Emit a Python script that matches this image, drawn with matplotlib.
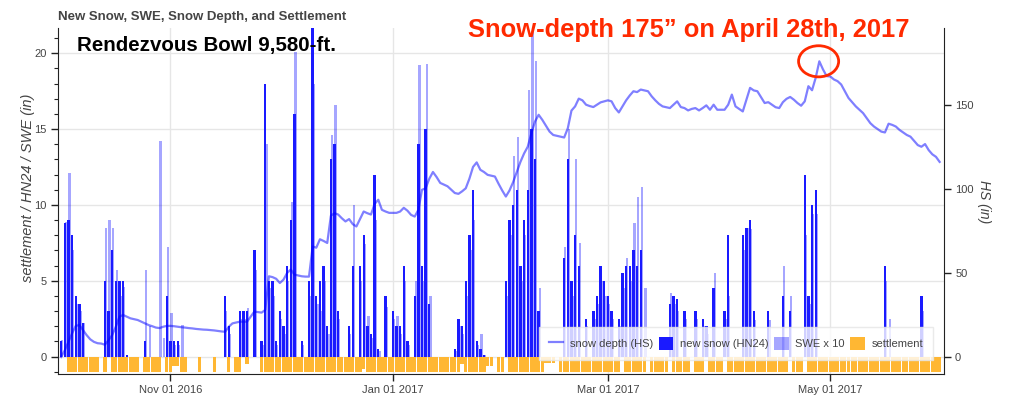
import numpy as np
import pandas as pd
import matplotlib
matplotlib.use("Agg")
import matplotlib.pyplot as plt
import matplotlib.dates as mdates
from matplotlib.patches import Ellipse, Patch
from matplotlib.lines import Line2D
from matplotlib.ticker import MultipleLocator, FixedLocator

plt.rcParams['font.family'] = ['Liberation Sans', 'DejaVu Sans']

# ---------------- data (daily, 2016-10-01 .. 2017-05-31) ----------------
start_date = "2016-10-01"
end_date = "2017-05-31"

# new snow HN24 (in)
hn_oct = [0, 1.0, 8.8, 9.0, 8.0, 4.0, 3.5, 2.2, 0, 0,
          0, 0, 0, 5.0, 3.0, 7.0, 5.0, 5.0, 5.0, 0.1,
          0, 0, 0, 0, 1.0, 0, 0, 0, 0, 0,
          4.0]
hn_nov = [1.0, 1.0, 1.0, 0, 0, 0, 0, 0, 0, 0,
          0, 0, 0, 0, 0, 4.0, 2.0, 0, 0, 3.0,
          3.0, 3.0, 0, 7.0, 0, 1.0, 18.0, 5.0, 5.0, 1.0]
hn_dec = [3.0, 2.0, 6.0, 9.0, 16.0, 0, 1.0, 0, 5.0, 24.0,
          4.0, 5.0, 6.0, 2.0, 13.0, 14.0, 3.0, 0, 0, 2.0,
          6.0, 0, 6.0, 8.0, 2.0, 1.5, 12.0, 0.5, 0, 4.0,
          0]
hn_jan = [3.0, 2.0, 2.0, 6.0, 1.0, 0, 4.0, 14.0, 6.0, 15.0,
          3.5, 0, 0, 0, 0, 0, 0, 0.5, 2.5, 2.0,
          5.0, 8.0, 11.0, 1.0, 0.5, 0.1, 0, 0, 0, 0,
          0]
hn_feb = [5.0, 9.0, 10.0, 11.0, 6.0, 9.0, 11.0, 15.0, 13.0, 3.0,
          0, 0, 0, 0, 0, 0, 6.5, 13.0, 5.0, 8.0,
          6.0, 0, 2.5, 0, 3.0, 4.0, 6.0, 5.0]
hn_mar = [4.0, 3.0, 0, 2.5, 5.5, 6.0, 6.0, 7.0, 6.0, 7.0,
          0, 0, 0, 0, 0, 0, 0, 3.5, 4.0, 3.8,
          0, 3.0, 0, 0, 3.0, 0, 2.5, 2.0, 0, 4.5,
          0]
hn_apr = [0, 3.0, 8.0, 0, 0, 0, 8.0, 8.5, 9.0, 3.0,
          0, 0, 0, 3.0, 0, 0, 0, 4.0, 0, 3.0,
          0, 0, 0, 12.0, 4.0, 10.0, 11.0, 0, 0, 0]
hn_may = [0, 0, 0, 0, 0, 0, 0, 0, 0, 0,
          0, 0, 0, 0, 0, 6.0, 0, 0, 0, 0,
          0, 0, 0, 0, 0, 4.0, 0, 0, 0, 0,
          0]

# SWE x 10 (in)
swe_oct = [0, 1.1, 8.9, 12.1, 7.0, 3.5, 3.0, 2.2, 0, 0,
           0, 0, 0, 8.5, 9.0, 8.5, 5.7, 4.0, 4.6, 0,
           0, 0, 0, 0, 5.7, 2.0, 0, 0, 14.2, 1.2,
           7.2]
swe_nov = [2.9, 0.8, 0.8, 2.1, 0, 0, 0, 0, 0, 0,
           0, 0, 0, 0, 0, 3.0, 1.5, 0, 0, 2.5,
           2.5, 3.2, 0, 5.7, 0, 0.8, 14.0, 4.5, 4.0, 0.8]
swe_dec = [2.5, 1.5, 5.0, 10.2, 20.1, 0, 0.8, 0, 4.0, 18.0,
           3.5, 3.0, 5.0, 1.5, 14.6, 16.6, 2.5, 0, 0, 1.5,
           10.0, 0, 5.0, 7.4, 2.7, 1.2, 9.0, 0.4, 0, 3.3,
           0]
swe_jan = [2.5, 2.7, 1.5, 5.0, 0.8, 0, 5.0, 19.2, 5.0, 19.3,
           4.0, 0, 0, 0, 0, 0, 0, 0.4, 2.0, 1.5,
           4.0, 7.0, 9.0, 0.8, 1.5, 0.1, 0, 0, 0, 0,
           0]
swe_feb = [4.0, 8.0, 13.2, 14.5, 5.0, 8.0, 17.6, 21.4, 19.5, 4.5,
           0, 0, 0, 0, 0, 0, 7.2, 15.0, 4.0, 13.0,
           7.5, 0, 2.0, 0, 2.5, 3.5, 5.0, 4.0]
swe_mar = [3.5, 2.5, 0, 2.0, 4.5, 6.5, 5.0, 8.8, 10.5, 11.2,
           4.5, 0, 0, 0, 0, 0, 0, 4.2, 3.5, 3.0,
           0, 2.5, 0, 0, 2.5, 0, 2.0, 1.5, 0, 5.5,
           0]
swe_apr = [0, 2.5, 4.0, 0, 0, 0, 7.0, 8.5, 8.4, 2.4,
           0, 0, 0, 2.4, 0, 0, 0, 6.0, 0, 4.0,
           0, 0, 0, 8.0, 3.5, 9.4, 9.4, 0, 0, 0]
swe_may = [0, 0, 0, 0, 0, 0, 0, 0, 0, 0,
           0, 0, 0, 0, 0, 5.0, 2.5, 0, 0, 0,
           0, 0, 0, 0, 0, 3.0, 0, 0, 0, 0,
           0]

# snow depth HS (in)
hs_oct = [np.nan, 0, 4, 9, 14, 18.5, 19, 16, 13, 10.5,
          9, 8.2, 8, 7.3, 10, 13, 18, 24, 25, 24,
          23, 22.5, 22, 21, 20, 19, 18.3, 17.5, 17.2, 18,
          18.5]
hs_nov = [18.5, 18.3, 18, 17.7, 17.5, 17.2, 17, 16.7, 16.5, 16.3,
          16.2, 16, 15.8, 15.5, 15.2, 15, 18, 20, 20.5, 21,
          21, 21, 24, 27, 26.7, 26.4, 28, 48, 47.5, 46.5]
hs_dec = [44, 46, 50, 52, 49, 48.5, 48, 47.8, 47.8, 65.7,
          65, 70, 69, 67.8, 84, 85.5, 84.7, 82.5, 80.6, 82,
          79, 77.6, 82, 86.5, 85.5, 84.7, 91, 93.5, 87.5, 86.5,
          85.7]
hs_jan = [85.7, 85.7, 86.5, 88.7, 87, 84.5, 83.5, 87.5, 99.4, 100.3,
          106, 110, 107, 103.5, 102.5, 101.5, 99.5, 97.5, 97, 98.5,
          100.3, 106, 113, 115.7, 111.3, 110, 108.3, 107.8, 107.3, 103,
          99]
hs_feb = [95.4, 99, 104, 110, 116, 121, 125, 133, 140, 144,
          141, 137.5, 134, 132, 131.5, 131, 130.5, 136, 146.5, 149,
          153.6, 152.6, 150, 149.2, 148.6, 150, 151.4, 152]
hs_mar = [152.6, 152, 148, 145.4, 149, 152.6, 155.5, 158, 157.5, 159,
          158.5, 158, 155, 152.6, 150.5, 149, 148.5, 148, 150, 152,
          148.6, 148, 146.6, 147.5, 148, 146.6, 148, 149.6, 147, 150,
          147]
hs_apr = [147, 147, 150, 156, 149, 147.5, 146, 153, 160, 158.5,
          158, 154.5, 151, 151.5, 150, 148.5, 148, 151.5, 153.5, 154.6,
          153, 151, 149.4, 152, 161, 158.6, 166, 175.8, 171, 167]
hs_may = [166.8, 165, 164, 162, 158, 154, 151.5, 149, 147, 145,
          142, 139, 137, 135.5, 134, 133.5, 138.7, 138, 137, 135,
          133.5, 132, 131, 128.5, 126, 125, 126.6, 123, 120.5, 119,
          116]

# settlement (in, negative)
set_oct = [0, 0, 0, -1.0, -1.0, -1.0, -1.0, -1.0, -1.0, -1.0,
           -1.0, -1.0, 0, -1.0, 0, -1.0, -1.0, -1.0, -1.0, -1.0,
           -1.0, -1.0, -1.0, 0, -1.0, -1.0, -1.0, -1.0, -1.0, 0,
           -1.0]
set_nov = [-1.0, -0.6, -0.6, -1.0, -1.0, 0, 0, 0, -1.0, 0,
           0, 0, -1.0, 0, 0, 0, -1.0, 0, -1.0, -1.0,
           0, -0.5, 0, 0, 0, -1.0, -1.0, -1.0, -1.0, -1.0]
set_dec = [-1.0, -1.0, -1.0, -1.0, -1.0, -1.0, -1.0, -1.0, -1.0, -1.0,
           -1.0, -1.0, -1.0, -1.0, -1.0, -1.0, -1.0, -1.0, -1.0, -1.0,
           -1.0, -1.0, -1.0, -0.8, -1.0, -1.0, -1.0, -1.0, -1.0, -1.0,
           -1.0]
set_jan = [-1.0, -1.0, -1.0, -1.0, -1.0, -1.0, -1.0, -1.0, -1.0, -1.0,
           -1.0, -1.0, -1.0, -1.0, -1.0, -1.0, -1.0, -1.0, -1.0, -0.5,
           -1.0, -1.0, -1.0, -1.0, -1.0, -1.0, -0.6, -0.6, 0, -1.0,
           -1.0]
set_feb = [0, -1.0, -1.0, -1.0, -1.0, -1.0, -1.0, -1.0, -1.0, -1.0,
           -1.0, -0.4, -0.4, -0.4, 0, -1.0, -1.0, -1.0, -1.0, -1.0,
           -1.0, -1.0, -1.0, -1.0, -1.0, -1.0, -1.0, -1.0]
set_mar = [-1.0, -1.0, -1.0, -1.0, 0, -1.0, -1.0, -1.0, -1.0, -1.0,
           -1.0, 0, -1.0, -1.0, -1.0, -1.0, -1.0, 0, -1.0, -1.0,
           -1.0, -1.0, -1.0, 0, -1.0, -1.0, -1.0, 0, -1.0, -1.0,
           -1.0]
set_apr = [-1.0, 0, -1.0, -1.0, -1.0, -1.0, -1.0, -1.0, -1.0, -1.0,
           -1.0, -1.0, -1.0, -1.0, -1.0, -1.0, -1.0, -1.0, -1.0, 0,
           -1.0, -1.0, -1.0, 0, -1.0, -1.0, -1.0, -1.0, -1.0, -1.0]
set_may = [-1.0, -1.0, -1.0, -1.0, -1.0, -1.0, -1.0, -1.0, -1.0, -1.0,
           -1.0, -1.0, -1.0, -1.0, -1.0, -1.0, -1.0, -1.0, -1.0, -1.0,
           -1.0, -1.0, -1.0, -1.0, -1.0, -1.0, -1.0, -1.0, -1.0, -1.0,
           -1.0]

x_tick_months = [11, 1, 3, 5]
left_ticks = [0, 5, 10, 15, 20]
right_ticks = [0, 50, 100, 150]

title_text = "New Snow, SWE, Snow Depth, and Settlement"
station_text = "Rendezvous Bowl 9,580-ft."
peak_text = "Snow-depth 175\u201d on April 28th, 2017"
left_label = "settlement / HN24 / SWE (in)"
right_label = "HS (in)"
legend_labels = ["snow depth (HS)", "new snow (HN24)", "SWE x 10", "settlement"]

# ---------------- assemble ----------------
dates = pd.date_range(start_date, end_date, freq="D")
hn = np.array(hn_oct + hn_nov + hn_dec + hn_jan + hn_feb + hn_mar + hn_apr + hn_may, float)
swe = np.array(swe_oct + swe_nov + swe_dec + swe_jan + swe_feb + swe_mar + swe_apr + swe_may, float)
hs = np.array(hs_oct + hs_nov + hs_dec + hs_jan + hs_feb + hs_mar + hs_apr + hs_may, float)
settle = np.array(set_oct + set_nov + set_dec + set_jan + set_feb + set_mar + set_apr + set_may, float)
xd = mdates.date2num(dates)

W, H = 1024, 398
fig = plt.figure(figsize=(W / 100, H / 100), dpi=100)
ax_l, ax_r, ax_t, ax_b = 58, 944, 28, 373.5
ax = fig.add_axes([ax_l / W, (H - ax_b) / H, (ax_r - ax_l) / W, (ax_b - ax_t) / H])
ax2 = ax.twinx()

c_blue = '#1a1aff'
ax.bar(xd + 0.3, swe, width=0.65, color='#0000ff', alpha=0.35, linewidth=0, zorder=2)
ax.bar(xd, hn, width=0.65, color=c_blue, linewidth=0, zorder=3)
ax.bar(xd, settle, width=0.9, color='#ffb733', linewidth=0, zorder=2)
ax2.plot(xd, hs, color='#0000ff', alpha=0.5, lw=1.6, zorder=3)

x0 = mdates.date2num(pd.Timestamp("2016-10-01")) + 0.14
x1 = mdates.date2num(pd.Timestamp("2017-06-01")) + 0.2
ax.set_xlim(x0, x1)
ax.set_ylim(-1.11, 21.67)
ax2.set_ylim(-9.8, 195.6)

ax.xaxis.set_major_locator(mdates.MonthLocator(bymonth=x_tick_months))
ax.xaxis.set_major_formatter(mdates.DateFormatter('%b %d %Y'))
ax.yaxis.set_major_locator(FixedLocator(left_ticks))
ax.yaxis.set_minor_locator(MultipleLocator(1))
ax2.yaxis.set_major_locator(FixedLocator(right_ticks))

ax.grid(True, which='major', color='#e6e6e6', lw=1)
ax.set_axisbelow(True)

lab_col = '#444444'
for a in (ax, ax2):
    a.spines['top'].set_visible(False)
ax.spines['right'].set_visible(False)
ax2.spines['left'].set_visible(False)
ax2.spines['bottom'].set_visible(False)
for sp in ('left', 'bottom'):
    ax.spines[sp].set_color('#222222')
ax2.spines['right'].set_color('#222222')

ax.tick_params(axis='both', which='major', direction='out', length=5, width=1,
               labelsize=8, labelcolor=lab_col, color='#222222', pad=3)
ax.tick_params(axis='y', which='minor', direction='out', length=3, width=0.8, color='#222222')
ax.tick_params(axis='x', which='minor', length=0)
ax2.tick_params(axis='y', which='major', direction='out', length=5, width=1,
                labelsize=8, labelcolor=lab_col, color='#222222', pad=3)

fig.text(28 / W, 1 - 188 / H, left_label, rotation=90, ha='center', va='center',
         fontsize=10.5, style='italic', color=lab_col)
fig.text(984 / W, 1 - 202 / H, right_label, rotation=270, ha='center', va='center',
         fontsize=10, style='italic', color=lab_col)

fig.text(58 / W, 1 - 17 / H, title_text, ha='left', va='center', fontsize=9.5,
         fontweight='bold', color=lab_col)
fig.text(77 / W, 1 - 46 / H, station_text, ha='left', va='center', fontsize=14.8,
         fontweight='bold', color='black')
fig.text(468 / W, 1 - 30 / H, peak_text, ha='left', va='center', fontsize=18.4,
         fontweight='bold', color='#ff2a00')

# circle around peak snow depth
ipk = int(np.nanargmax(hs))
ell = Ellipse((xd[ipk] - 0.2, hs[ipk]), width=11, height=18.5, fill=False,
              edgecolor='#ff2a00', lw=2, clip_on=False, zorder=5)
ax2.add_patch(ell)

handles = [Line2D([0], [0], color='#0000ff', alpha=0.5, lw=1.6),
           Patch(facecolor=c_blue, edgecolor='none'),
           Patch(facecolor='#0000ff', alpha=0.35, edgecolor='none'),
           Patch(facecolor='#ffb733', edgecolor='none')]
leg = ax2.legend(handles, legend_labels, loc='lower right', bbox_to_anchor=(0.9876, 0.039),
                 borderaxespad=0, ncol=4, fontsize=8, frameon=True, fancybox=False,
                 framealpha=0.8, edgecolor='#e5e5e5', handlelength=1.3, handleheight=1.4,
                 columnspacing=0.5, handletextpad=0.6, borderpad=0.9)
for t in leg.get_texts():
    t.set_color(lab_col)
leg.set_zorder(10)

fig.savefig("out.png", dpi=100)
